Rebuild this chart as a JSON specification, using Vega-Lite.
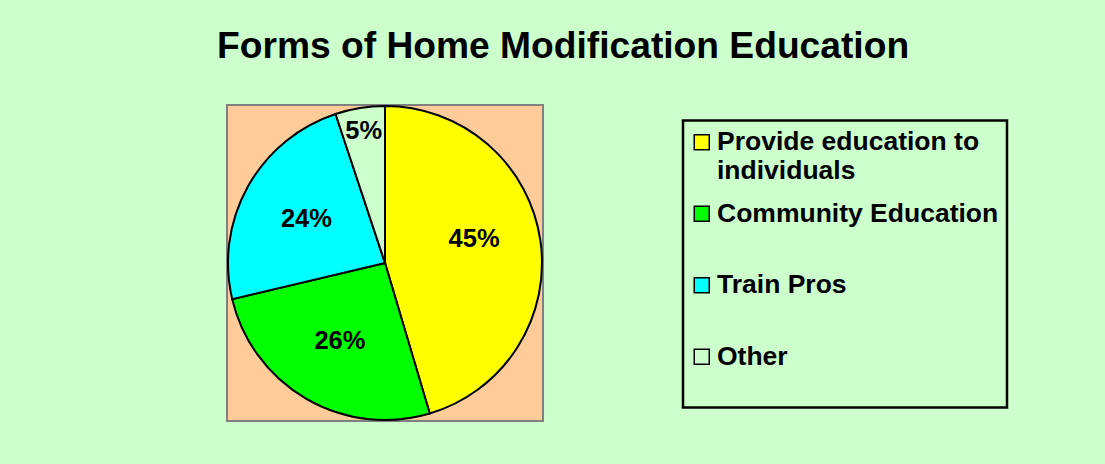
{
  "$schema": "https://vega.github.io/schema/vega-lite/v6.json",
  "width": 316,
  "height": 316,
  "autosize": {"type": "none"},
  "padding": {"left": 227, "top": 105, "right": 562, "bottom": 43},
  "background": "#CCFFCC",
  "view": {"fill": "#FFCC99", "stroke": "#808080", "strokeWidth": 2},
  "title": {
    "text": "Forms of Home Modification Education",
    "anchor": "start",
    "frame": "group",
    "dx": -10,
    "offset": 36,
    "font": "Liberation Sans",
    "fontSize": 37.2,
    "fontWeight": "bold",
    "color": "#000000"
  },
  "data": {
    "values": [
      {"category": "Provide education to individuals", "value": 45.4, "label": "45%", "idx": 1},
      {"category": "Community Education", "value": 25.9, "label": "26%", "idx": 2},
      {"category": "Train Pros", "value": 23.6, "label": "24%", "idx": 3},
      {"category": "Other", "value": 5.1, "label": "5%", "idx": 4}
    ]
  },
  "encoding": {
    "theta": {"field": "value", "type": "quantitative", "stack": true},
    "order": {"field": "idx", "type": "quantitative"}
  },
  "layer": [
    {
      "mark": {"type": "arc", "outerRadius": 157, "stroke": "#000000", "strokeWidth": 2},
      "encoding": {
        "color": {
          "field": "category",
          "type": "nominal",
          "sort": ["Provide education to individuals", "Community Education", "Train Pros", "Other"],
          "scale": {
            "domain": ["Provide education to individuals", "Community Education", "Train Pros", "Other"],
            "range": ["#FFFF00", "#00FF00", "#00FFFF", "#CCFFCC"]
          },
          "legend": {
            "title": null,
            "orient": "none",
            "legendX": 456,
            "legendY": 15.5,
            "padding": 8.5,
            "fillColor": "#CCFFCC",
            "strokeColor": "#000000",
            "symbolType": "square",
            "symbolSize": 225,
            "symbolOffset": -3,
            "symbolStrokeColor": "#000000",
            "symbolStrokeWidth": 1.5,
            "symbolOpacity": 1,
            "labelFont": "Liberation Sans",
            "labelFontSize": 26.5,
            "labelFontWeight": "bold",
            "labelColor": "#000000",
            "labelOffset": 2,
            "labelLimit": 0,
            "labelBaseline": "alphabetic",
            "labelLineHeight": 31,
            "rowPadding": 15.5,
            "labelExpr": "datum.label == 'Provide education to individuals' ? ['Provide education to', 'individuals'] : [datum.label, ' ']",
            "encode": {
              "labels": {"update": {"dy": {"value": 8}}},
              "legend": {"update": {"strokeWidth": {"value": 2.5}}}
            }
          }
        }
      }
    },
    {
      "mark": {
        "type": "text",
        "radius": {"expr": "datum.value < 10 ? 134 : 90"},
        "dy": {"expr": "datum.value > 40 ? -11 : 0"},
        "font": "Liberation Sans",
        "fontSize": 25.5,
        "fontWeight": "bold",
        "color": "#000000",
        "baseline": "middle",
        "align": "center"
      },
      "encoding": {
        "text": {"field": "label", "type": "nominal"}
      }
    }
  ]
}
